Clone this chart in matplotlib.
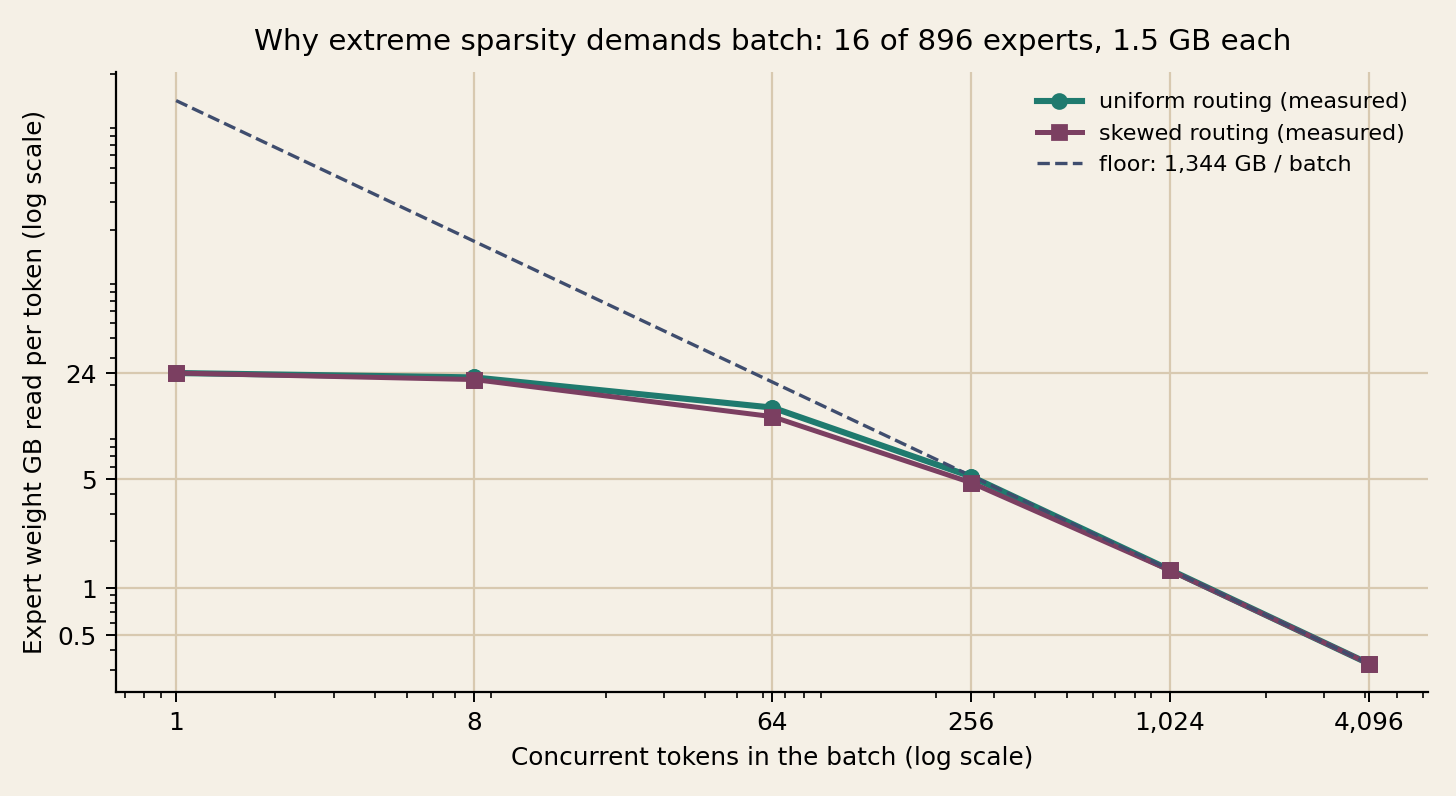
import matplotlib
matplotlib.use("Agg")
import matplotlib.pyplot as plt
from matplotlib.ticker import FixedLocator, FixedFormatter, NullFormatter

# data
batch = [1, 8, 64, 256, 1024, 4096]
uniform_gb = [24, 22.5, 14.4, 5.2, 1.31, 0.328]
skewed_gb = [24, 21.8, 12.6, 4.75, 1.30, 0.328]
floor_total_gb = 1344
floor_gb = [floor_total_gb / b for b in batch]

x_ticks = [1, 8, 64, 256, 1024, 4096]
x_labels = ["1", "8", "64", "256", "1,024", "4,096"]
y_ticks = [0.5, 1, 5, 24]
y_labels = ["0.5", "1", "5", "24"]

bg = "#f5f0e6"
teal = "#1f7a6e"
plum = "#7b3f61"
slate = "#3f4d6e"
grid_c = "#d8c9b0"

fig, ax = plt.subplots(figsize=(7.28, 3.98), dpi=200)
fig.patch.set_facecolor(bg)
ax.set_facecolor(bg)

ax.plot(batch, uniform_gb, color=teal, lw=2.2, marker="o", ms=5,
        label="uniform routing (measured)", zorder=2)
ax.plot(batch, skewed_gb, color=plum, lw=1.8, marker="s", ms=5,
        label="skewed routing (measured)", zorder=2.1)
ax.plot(batch, floor_gb, color=slate, lw=1.2, ls="--",
        label="floor: 1,344 GB / batch", zorder=3)
# markers sit above the dashed floor
ax.plot(batch, uniform_gb, color=teal, ls="none", marker="o", ms=5, zorder=4)
ax.plot(batch, skewed_gb, color=plum, ls="none", marker="s", ms=5, zorder=4.1)

ax.set_xscale("log")
ax.set_yscale("log")
ax.xaxis.set_major_locator(FixedLocator(x_ticks))
ax.xaxis.set_major_formatter(FixedFormatter(x_labels))
ax.xaxis.set_minor_formatter(NullFormatter())
ax.yaxis.set_major_locator(FixedLocator(y_ticks))
ax.yaxis.set_major_formatter(FixedFormatter(y_labels))
ax.yaxis.set_minor_formatter(NullFormatter())

ax.grid(True, which="major", color=grid_c, lw=0.8)
ax.set_axisbelow(True)
for s in ["top", "right"]:
    ax.spines[s].set_visible(False)
ax.tick_params(labelsize=8.9, width=0.7)
ax.tick_params(which="minor", width=0.6)

ax.set_xlabel("Concurrent tokens in the batch (log scale)", fontsize=8.9)
ax.set_ylabel("Expert weight GB read per token (log scale)", fontsize=8.9)
ax.set_title("Why extreme sparsity demands batch: 16 of 896 experts, 1.5 GB each",
             fontsize=10.6, pad=8)
ax.legend(loc="upper right", frameon=False, fontsize=8)

fig.subplots_adjust(left=0.080, right=0.981, top=0.909, bottom=0.131)
fig.savefig("out.png", dpi=200, facecolor=bg)
